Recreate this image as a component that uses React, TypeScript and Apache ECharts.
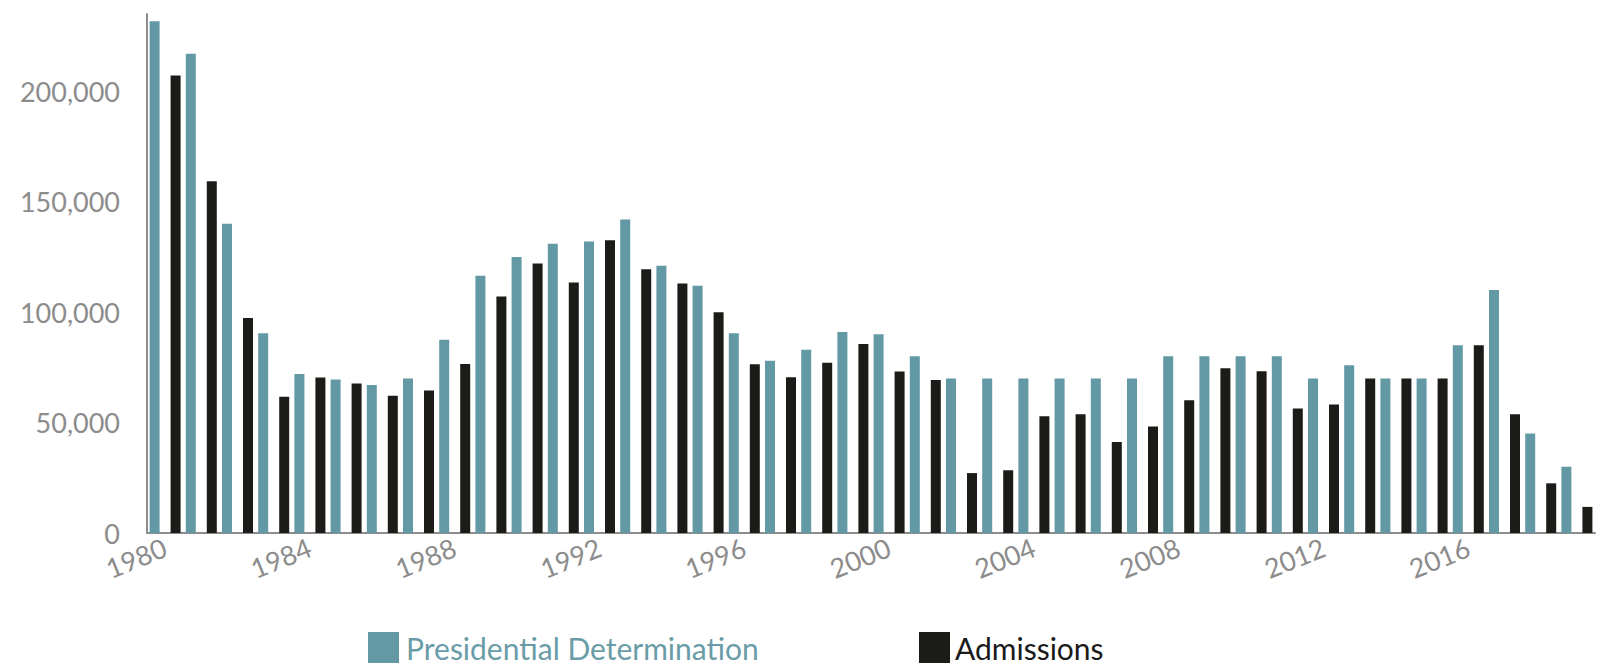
import React, { useEffect, useRef } from "react";
import * as echarts from "echarts";

const years = [
  "1980","1981","1982","1983","1984","1985","1986","1987","1988","1989",
  "1990","1991","1992","1993","1994","1995","1996","1997","1998","1999",
  "2000","2001","2002","2003","2004","2005","2006","2007","2008","2009",
  "2010","2011","2012","2013","2014","2015","2016","2017","2018","2019",
];

const presidentialDetermination = [
  231700, 217000, 140000, 90500, 72000, 69500, 67000, 70000, 87500, 116500,
  125000, 131000, 132000, 142000, 121000, 112000, 90500, 78000, 83000, 91000,
  90000, 80000, 70000, 70000, 70000, 70000, 70000, 70000, 80000, 80000,
  80000, 80000, 70000, 76000, 70000, 70000, 85000, 110000, 45000, 30000,
];

const admissions = [
  207116, 159252, 97355, 61681, 70393, 67704, 62146, 64528, 76483, 107070,
  122066, 113389, 132531, 119448, 112981, 99974, 76403, 70488, 77080, 85525,
  73147, 69304, 27131, 28403, 52873, 53813, 41223, 48218, 60107, 74602,
  73293, 56384, 58238, 69926, 69987, 69933, 84994, 53716, 22491, 11814,
];

const yTicks = [0, 50000, 100000, 150000, 200000];

const TEAL = "#6398a5";
const BLACK = "#1b1b17";
const GRAY = "#8c8c8c";
const FONT = "Lato";

export default function App() {
  const ref = useRef<HTMLDivElement>(null);
  useEffect(() => {
    if (!ref.current) return;
    const chart = echarts.init(ref.current, undefined, { renderer: "svg" });
    chart.setOption({
      animation: false,
      backgroundColor: "#ffffff",
      textStyle: { fontFamily: FONT },
      grid: {
        left: 147,
        right: 6,
        top: 14,
        bottom: 131,
        containLabel: false,
        outerBoundsMode: "none",
      },
      legend: [
        {
          data: [{ name: "Presidential Determination", textStyle: { color: "#6a9ca8" } }],
          left: 368,
          top: 632,
          itemWidth: 31,
          itemHeight: 31,
          itemGap: 0,
          icon: "rect",
          padding: 0,
          textStyle: { fontFamily: FONT, fontSize: 30, lineHeight: 30, padding: [0, 0, 0, 2] },
        },
        {
          data: [{ name: "Admissions", textStyle: { color: "#1a1a1a" } }],
          left: 919,
          top: 632,
          itemWidth: 31,
          itemHeight: 31,
          itemGap: 0,
          icon: "rect",
          padding: 0,
          textStyle: { fontFamily: FONT, fontSize: 30, lineHeight: 30 },
        },
      ],
      xAxis: {
        type: "category",
        data: years,
        boundaryGap: true,
        axisLine: { show: true, lineStyle: { color: GRAY, width: 2 } },
        axisTick: { show: false },
        axisLabel: {
          interval: 3,
          rotate: 22,
          margin: 13,
          color: GRAY,
          fontSize: 27,
          fontFamily: FONT,
        },
        splitLine: { show: false },
      },
      yAxis: {
        type: "value",
        min: 0,
        max: 235000,
        interval: 50000,
        axisLine: { show: true, lineStyle: { color: GRAY, width: 2 } },
        axisTick: { show: false },
        splitLine: { show: false },
        axisLabel: {
          margin: 27,
          color: GRAY,
          fontSize: 27,
          fontFamily: FONT,
          showMaxLabel: false,
          formatter: (v: number) =>
            yTicks.indexOf(v) >= 0 ? v.toLocaleString("en-US") : "",
        },
      },
      series: [
        {
          name: "Presidential Determination",
          type: "bar",
          data: presidentialDetermination,
          barWidth: 10,
          barGap: "110%",
          itemStyle: { color: TEAL },
        },
        {
          name: "Admissions",
          type: "bar",
          data: admissions,
          barWidth: 10,
          barGap: "110%",
          itemStyle: { color: BLACK },
        },
      ],
    });
    return () => chart.dispose();
  }, []);
  return (
    <div
      ref={ref}
      style={{ position: "fixed", left: 0, top: 0, width: 1601, height: 664 }}
    />
  );
}
